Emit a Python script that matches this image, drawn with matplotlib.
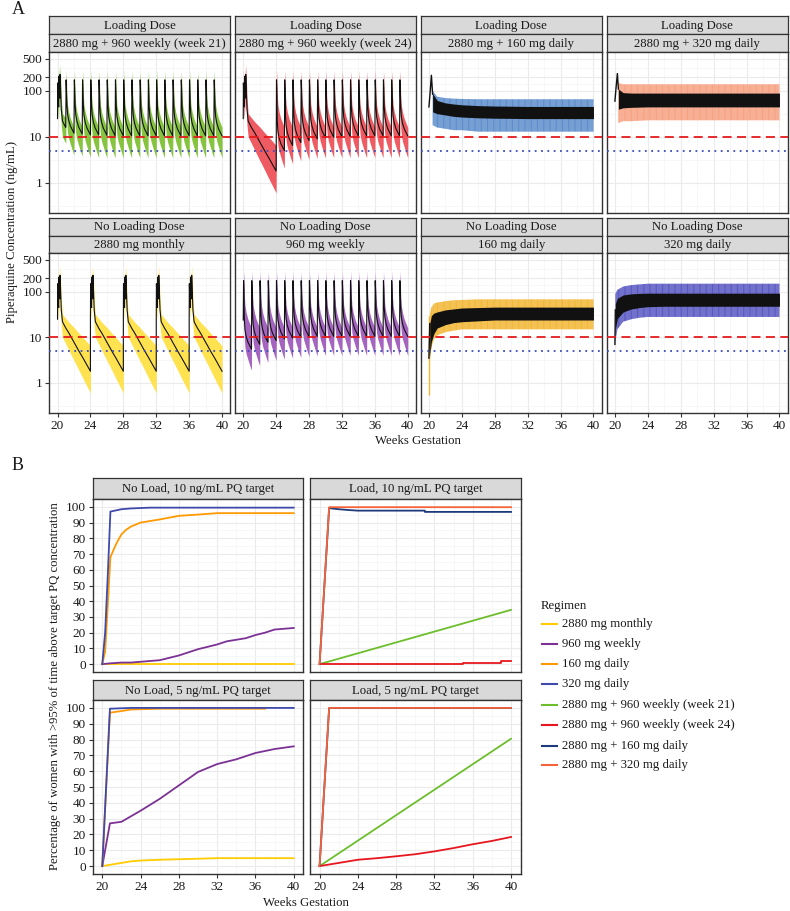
import numpy as np
import matplotlib.pyplot as plt
from matplotlib.lines import Line2D
from matplotlib.ticker import FixedLocator, NullFormatter

plt.rcParams['font.family'] = ['Liberation Serif', 'DejaVu Serif']
plt.rcParams['hatch.linewidth'] = 0.7

W, H = 790, 911
FS = 9.2

# ---------------- panel A data (concentration, ng/mL) ----------------
# loading course (2880 mg over 3 days), days after first dose
LOAD_T = [0, 0.15, 0.6, 1.0, 1.15, 1.6, 2.0, 2.15, 2.6, 3.2, 4.2, 7, 10, 14, 18, 22, 28]
LOAD_MED = [25, 150, 60, 45, 210, 90, 70, 230, 110, 40, 22, 16, 12, 7.8, 5.1, 3.4, 1.8]
LOAD_LO = [12, 60, 30, 25, 90, 45, 35, 100, 55, 18, 10, 7.2, 5.0, 3.1, 1.95, 1.2, 0.6]
LOAD_HI = [60, 280, 140, 110, 330, 180, 150, 380, 220, 70, 32, 26, 21, 16.5, 12.5, 9.7, 6.5]

# one weekly 960 mg dose, days after dose
WK_T = [0.3, 0.6, 1.0, 1.5, 2.5, 4.0, 5.5, 7.0]
WK_MED = [175, 110, 45, 28, 20, 15, 12.5, 10.5]
WK_LO = [60, 40, 16, 11, 8, 6, 4.5, 3.5]
WK_HI = [280, 200, 80, 50, 35, 25, 20, 16]

# troughs at the end of each weekly cycle
GREEN_DOSES = list(range(21, 40))
GREEN_TR_MED = [12, 11.5, 11, 11, 10.8, 10.6, 10.5, 10.5, 10.5, 10.5, 10.5, 10.5,
                10.5, 10.5, 10.5, 10.5, 10.5, 10.5, 10.5]
GREEN_TR_LO = [4.0, 3.8, 3.6, 3.5, 3.5, 3.5, 3.5, 3.5, 3.5, 3.5, 3.5, 3.5,
               3.5, 3.5, 3.5, 3.5, 3.5, 3.5, 3.5]
RED_DOSES = list(range(24, 40))
RED_TR_MED = [5.0, 6.5, 7.5, 8.3, 9.0, 9.5, 9.8, 10.0, 10.2, 10.4, 10.5, 10.5,
              10.5, 10.5, 10.5, 10.5]
RED_TR_LO = [2.1, 2.6, 3.0, 3.2, 3.4, 3.5, 3.5, 3.5, 3.5, 3.5, 3.5, 3.5,
             3.5, 3.5, 3.5, 3.5]
PURPLE_DOSES = list(range(20, 40))
PURPLE_TR_MED = [5.5, 7.0, 7.8, 8.5, 9.2, 9.6, 10.0, 10.3, 10.5, 10.5, 10.5, 10.5,
                 10.5, 10.5, 10.5, 10.5, 10.5, 10.5, 10.5, 10.5]
PURPLE_TR_LO = [1.9, 2.4, 2.8, 3.1, 3.3, 3.5, 3.6, 3.8, 3.9, 4.0, 4.0, 4.0,
                4.0, 4.0, 4.0, 4.0, 4.0, 4.0, 4.0, 4.0]
PURPLE_START = [24, 18, 30]
MONTHLY_DOSES = [20, 24, 28, 32, 36]

# daily regimens: start spike, median band and outer interval (weeks)
A3_SPK_T = [20.0, 20.14, 20.3, 20.45]
A3_SPK = [45, 90, 220, 85]
A3_T = [20.45, 21, 22, 23, 24, 26, 28, 32, 36, 40]
A3_LO = [35, 32, 30, 28, 27, 26, 25.5, 25, 25, 25]
A3_HI = [88, 62, 55, 52, 50, 48, 47, 46, 46, 46]
A3_OLO = [18, 16, 15, 14, 14, 13, 13, 13, 13, 13]
A3_OHI = [100, 75, 70, 68, 67, 66, 66, 66, 66, 66]

A4_SPK_T = [20.0, 20.14, 20.3, 20.42]
A4_SPK = [60, 120, 240, 110]
A4_T = [20.42, 21, 22, 24, 28, 32, 36, 40]
A4_LO = [40, 43, 44, 45, 45, 45, 45, 45]
A4_HI = [110, 92, 90, 90, 90, 90, 90, 90]
A4_OLO = [20, 22, 22, 23, 23, 23, 23, 23]
A4_OHI = [150, 140, 140, 140, 140, 140, 140, 140]

A7_SPK_T = [20.0, 20.1]
A7_SPK = [3.5, 20]
A7_T = [20.1, 20.3, 20.6, 21, 22, 23, 24, 26, 28, 32, 36, 40]
A7_LO = [4, 8, 12, 16, 19, 21, 22, 23, 24, 24, 24, 24]
A7_HI = [20, 30, 34, 36, 40, 42, 44, 45, 46, 46, 46, 46]
A7_OLO = [3, 6, 9, 11, 13, 14, 15, 15, 15, 15, 15, 15]
A7_OHI = [30, 45, 55, 58, 62, 65, 66, 68, 68, 68, 68, 68]
A7_FIRST = [20.0, 0.55, 30]

A8_SPK_T = [20.0, 20.05]
A8_SPK = [7, 40]
A8_T = [20.05, 20.3, 21, 22, 23, 24, 26, 28, 32, 36, 40]
A8_LO = [15, 26, 36, 42, 45, 47, 48, 48, 48, 48, 48]
A8_HI = [55, 72, 85, 90, 92, 93, 93, 93, 93, 93, 93]
A8_OLO = [8, 15, 22, 25, 27, 28, 28, 28, 28, 28, 28]
A8_OHI = [90, 110, 130, 140, 145, 150, 150, 150, 150, 150, 150]

# ---------------- panel B data (% of women) ----------------
REGIMENS = ['2880 mg monthly', '960 mg weekly', '160 mg daily', '320 mg daily',
            '2880 mg + 960 weekly (week 21)', '2880 mg + 960 weekly (week 24)',
            '2880 mg + 160 mg daily', '2880 mg + 320 mg daily']
COLORS = ['#FFCC00', '#7B3294', '#FF9900', '#3F4AAB',
          '#6DBE2D', '#E8161E', '#1F3A7A', '#F4633A']

B1 = {
    0: ([20, 40], [0, 0]),
    1: ([20, 20.8, 22, 23, 24, 25, 26, 27, 28, 29, 30, 31, 32, 33, 34, 35, 36, 37, 38, 39, 40],
        [0, 0.5, 1, 1, 1.5, 2, 2.5, 4, 5.5, 7.5, 9.5, 11, 12.5, 14.5, 15.5, 16.5, 18.5, 20, 22, 22.5, 23]),
    2: ([20, 20.3, 20.6, 20.85, 21.2, 21.5, 22, 22.5, 23, 24, 26, 28, 30, 32, 40],
        [0, 8, 40, 68, 73, 77, 82.5, 85.5, 87.5, 90, 92, 94.3, 95.1, 96, 96]),
    3: ([20, 20.3, 20.6, 20.85, 22, 23, 25, 40], [0, 20, 60, 97, 98.5, 99, 99.5, 99.5]),
}
B2 = {
    4: ([20, 40], [0, 34.5]),
    5: ([20, 35, 35, 39, 39, 40], [0.4, 0.4, 1.0, 1.0, 1.7, 1.7]),
    6: ([20, 21, 22, 23, 24, 31, 31, 40], [0, 99.2, 98.5, 98, 97.6, 97.6, 96.8, 96.8]),
    7: ([20, 21, 40], [0, 99.8, 99.8]),
}
B3 = {
    0: ([20, 21, 22, 23, 24, 26, 29, 32, 40], [0, 1, 2, 3, 3.5, 4, 4.5, 5, 5]),
    1: ([20, 20.8, 22, 24, 26, 28, 30, 32, 34, 36, 38, 40],
        [0, 27, 28, 35, 42.5, 51, 59.5, 64.5, 67.5, 71.5, 74, 75.7]),
    2: ([20, 20.8, 22, 23, 26, 37], [0, 97, 98, 99, 99.5, 99.5]),
    3: ([20, 20.8, 23, 40], [0, 99.5, 100, 100]),
}
B4 = {
    4: ([20, 40], [0, 80.5]),
    5: ([20, 22, 24, 26, 28, 30, 32, 34, 36, 38, 40],
        [0, 2, 4, 5, 6.2, 7.5, 9.3, 11.4, 13.8, 15.9, 18.4]),
    6: ([20, 21, 40], [0, 100, 100]),
    7: ([20, 21, 40], [0, 100, 100]),
}


def weekly_profile(first, first_len, doses, tr_med, tr_lo, start=None):
    t, m, lo, hi = [], [], [], []
    if first is not None:
        ft = np.array(LOAD_T)
        keep = ft <= first_len
        t += list(20 + ft[keep] / 7)
        m += list(np.array(LOAD_MED)[keep])
        lo += list(np.array(LOAD_LO)[keep])
        hi += list(np.array(LOAD_HI)[keep])
    if start is not None:
        t.append(20.0)
        m.append(start[0]); lo.append(start[1]); hi.append(start[2])
    wt = np.array(WK_T)
    late = wt >= 1.0
    for d, tm, tl in zip(doses, tr_med, tr_lo):
        fm = np.where(late, tm / WK_MED[-1], 1.0)
        fl = np.where(late, tl / WK_LO[-1], 1.0)
        t += list(d + wt / 7)
        m += list(np.array(WK_MED) * fm)
        lo += list(np.array(WK_LO) * fl)
        hi += list(WK_HI)
    return np.array(t), np.array(m), np.array(lo), np.array(hi)


def monthly_profile(doses):
    t, m, lo, hi = [], [], [], []
    for d in doses:
        t += list(d + np.array(LOAD_T) / 7)
        m += LOAD_MED; lo += LOAD_LO; hi += LOAD_HI
    return np.array(t), np.array(m), np.array(lo), np.array(hi)


fig = plt.figure(figsize=(W / 100, H / 100), dpi=100)
fig.patch.set_facecolor('white')

TXT = '#1A1A1A'
BORDER = '#333333'


def px_axes(x, y, w, h, **kw):
    return fig.add_axes([x / W, 1 - (y + h) / H, w / W, h / H], **kw)


def strip(x, y, w, h, label):
    s = px_axes(x, y, w, h)
    s.set_facecolor('#D9D9D9')
    s.set_xticks([]); s.set_yticks([])
    for sp in s.spines.values():
        sp.set_color(BORDER); sp.set_linewidth(0.9)
    s.text(0.5, 0.47, label, ha='center', va='center', fontsize=FS, color=TXT,
           transform=s.transAxes)


def style_panel(ax, left, bottom):
    ax.set_facecolor('white')
    for sp in ax.spines.values():
        sp.set_color(BORDER); sp.set_linewidth(1.0)
    ax.set_axisbelow(True)
    ax.grid(which='major', color='#EBEBEB', linewidth=0.8)
    ax.grid(which='minor', color='#F4F4F4', linewidth=0.5)
    ax.tick_params(which='minor', length=0)
    ax.tick_params(which='major', length=3, color=BORDER, labelsize=FS + 0.3,
                   labelcolor=TXT, pad=2)
    ax.tick_params(axis='x', bottom=bottom, labelbottom=bottom)
    ax.tick_params(axis='y', left=left, labelleft=left)
    ax.xaxis.set_major_locator(FixedLocator([20, 24, 28, 32, 36, 40]))
    ax.xaxis.set_minor_locator(FixedLocator([22, 26, 30, 34, 38]))
    ax.set_xlim(19, 41)


# ---------------- panel A ----------------
A_X = [49.3, 235, 420.7, 606.7]
A_W = 181
A_ROWS = [(16, 52, 161), (218, 253, 160)]
TOP = ['Loading Dose'] * 4 + ['No Loading Dose'] * 4
SUB = ['2880 mg + 960 weekly (week 21)', '2880 mg + 960 weekly (week 24)',
       '2880 mg + 160 mg daily', '2880 mg + 320 mg daily',
       '2880 mg monthly', '960 mg weekly', '160 mg daily', '320 mg daily']

axA = []
for r, (sy, py, ph) in enumerate(A_ROWS):
    for c in range(4):
        k = r * 4 + c
        sh = (py - sy) / 2
        strip(A_X[c], sy, A_W, sh, TOP[k])
        strip(A_X[c], sy + sh, A_W, sh, SUB[k])
        ax = px_axes(A_X[c], py, A_W, ph)
        ax.set_yscale('log')
        ax.set_ylim(10 ** -0.66, 10 ** 2.85)
        ax.yaxis.set_major_locator(FixedLocator([1, 10, 100, 200, 500]))
        ax.yaxis.set_major_formatter(plt.FixedFormatter(['1', '10', '100', '200', '500']))
        ax.yaxis.set_minor_locator(FixedLocator(10 ** np.array([-0.5, 0.5, 1.5, 2.15, 2.5])))
        ax.yaxis.set_minor_formatter(NullFormatter())
        style_panel(ax, c == 0, r == 1)
        axA.append(ax)


def draw_weekly(ax, prof, band):
    t, m, lo, hi = prof
    ax.fill_between(t, lo, hi, color=band, linewidth=0, zorder=2)
    ax.plot(t, m, color='#111111', linewidth=0.8, zorder=3)


def draw_daily(ax, spk_t, spk, t, lo, hi, olo, ohi, col):
    ax.fill_between(t, olo, ohi, facecolor=col, alpha=0.22, linewidth=0, zorder=2)
    ax.fill_between(t, olo, ohi, facecolor='none', edgecolor=col, hatch='|' * 14,
                    linewidth=0, zorder=2)
    ax.fill_between(t, lo, hi, color='#111111', linewidth=0, zorder=3)
    ax.plot(spk_t, spk, color='#111111', linewidth=1.0, zorder=3)


draw_weekly(axA[0], weekly_profile(True, 7, GREEN_DOSES, GREEN_TR_MED, GREEN_TR_LO), '#86C440')
draw_weekly(axA[1], weekly_profile(True, 28, RED_DOSES, RED_TR_MED, RED_TR_LO), '#EF5B62')
draw_daily(axA[2], A3_SPK_T, A3_SPK, A3_T, A3_LO, A3_HI, A3_OLO, A3_OHI, '#5B8CCB')
draw_daily(axA[3], A4_SPK_T, A4_SPK, A4_T, A4_LO, A4_HI, A4_OLO, A4_OHI, '#F7A080')
draw_weekly(axA[4], monthly_profile(MONTHLY_DOSES), '#FFE24F')
draw_weekly(axA[5], weekly_profile(None, 0, PURPLE_DOSES, PURPLE_TR_MED, PURPLE_TR_LO,
                                   start=PURPLE_START), '#A464BF')
axA[6].vlines(A7_FIRST[0], A7_FIRST[1], A7_FIRST[2], color='#F2B632', linewidth=1.0, zorder=2)
draw_daily(axA[6], A7_SPK_T, A7_SPK, A7_T, A7_LO, A7_HI, A7_OLO, A7_OHI, '#F2B632')
draw_daily(axA[7], A8_SPK_T, A8_SPK, A8_T, A8_LO, A8_HI, A8_OLO, A8_OHI, '#5656C2')

for ax in axA:
    ax.axhline(10, color='#E41A1C', linestyle=(0, (5, 3)), linewidth=1.3, zorder=4)
    ax.axhline(5, color='#3B4CC0', linestyle=(0, (1, 2.5)), linewidth=1.3, zorder=4)

fig.text(12 / W, 1 - 10 / H, 'A', fontsize=13, color=TXT, va='center', ha='left')
fig.text(12 / W, 1 - 232 / H, 'Piperaquine Concentration (ng/mL)', rotation=90,
         fontsize=FS, color=TXT, ha='center', va='center')
fig.text(418 / W, 1 - 441 / H, 'Weeks Gestation', fontsize=FS, color=TXT,
         ha='center', va='center')

# ---------------- panel B ----------------
B_X = [92.7, 310]
B_W = 210.6
B_ROWS = [(478, 499, 173), (680, 700, 174)]
B_TITLES = ['No Load, 10 ng/mL PQ target', 'Load, 10 ng/mL PQ target',
            'No Load, 5 ng/mL PQ target', 'Load, 5 ng/mL PQ target']
B_DATA = [B1, B2, B3, B4]

for r, (sy, py, ph) in enumerate(B_ROWS):
    for c in range(2):
        k = r * 2 + c
        strip(B_X[c], sy, B_W, py - sy, B_TITLES[k])
        ax = px_axes(B_X[c], py, B_W, ph)
        ax.set_ylim(-5, 105)
        ax.yaxis.set_major_locator(FixedLocator(range(0, 101, 10)))
        ax.yaxis.set_minor_locator(FixedLocator(range(5, 100, 10)))
        style_panel(ax, c == 0, r == 1)
        for i in sorted(B_DATA[k]):
            xs, ys = B_DATA[k][i]
            ax.plot(xs, ys, color=COLORS[i], linewidth=1.3, zorder=3)

fig.text(12 / W, 1 - 465 / H, 'B', fontsize=13, color=TXT, va='center', ha='left')
fig.text(55 / W, 1 - 686 / H,
         'Percentage of women with >95% of time above target PQ concentration',
         rotation=90, fontsize=FS, color=TXT, ha='center', va='center')
fig.text(306 / W, 1 - 903 / H, 'Weeks Gestation', fontsize=FS, color=TXT,
         ha='center', va='center')

# legend
fig.text(541 / W, 1 - 606 / H, 'Regimen', fontsize=FS, color=TXT, ha='left', va='center')
LEG_Y = [624, 644, 664.3, 684.3, 704.7, 725, 745.7, 765]
for name, col, ly in zip(REGIMENS, COLORS, LEG_Y):
    fig.add_artist(Line2D([542 / W, 557 / W], [1 - ly / H, 1 - ly / H], color=col,
                          linewidth=1.5, transform=fig.transFigure))
    fig.text(562 / W, 1 - ly / H, name, fontsize=FS, color=TXT, ha='left', va='center')

fig.savefig('out.png', dpi=100, facecolor='white')
